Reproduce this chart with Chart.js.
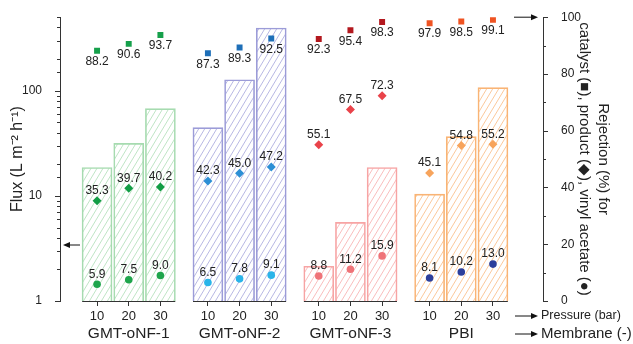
<!DOCTYPE html>
<html>
<head>
<meta charset="utf-8">
<script src="https://cdn.jsdelivr.net/npm/chart.js@4.4.1/dist/chart.umd.min.js"></script>
<style>
body { margin: 0; background: #fff; }
</style>
</head>
<body>
<canvas id="chart" width="633" height="344"></canvas>
<script>
const pressures = ['10', '20', '30'];
const membranes = ['GMT-oNF-1', 'GMT-oNF-2', 'GMT-oNF-3', 'PBI'];
// flux (L m-2 h-1), membrane by membrane, 10/20/30 bar
const flux = [18.6, 31.5, 67.5, 44.6, 127, 395, 2.14, 5.6, 18.6, 10.4, 36.6, 107];
// rejections (%)
const catalystRej = [88.2, 90.6, 93.7, 87.3, 89.3, 92.5, 92.3, 95.4, 98.3, 97.9, 98.5, 99.1];
const productRej = [35.3, 39.7, 40.2, 42.3, 45.0, 47.2, 55.1, 67.5, 72.3, 45.1, 54.8, 55.2];
const vinylRej = [5.9, 7.5, 9.0, 6.5, 7.8, 9.1, 8.8, 11.2, 15.9, 8.1, 10.2, 13.0];
const fluxTicks = [1, 10, 100];
const rejTicks = [0, 20, 40, 60, 80, 100];

const barColors = ['#a6dbb0', '#9c9cd8', '#f7a4a4', '#f9b475'];
const squareColors = ['#16a04b', '#1e6fb8', '#b3181e', '#ef5322'];
const diamondColors = ['#129d45', '#2d8fd5', '#e9434a', '#f7a45c'];
const circleColors = ['#1ea54c', '#2ab4e9', '#ef7378', '#2c3f9c'];

const FONT = '"Liberation Sans", Arial, sans-serif';

// groups of three bars, half a slot empty between groups
function xPos(i) { return Math.floor(i / 3) * 3.5 + i % 3; }
function perBar(colors) { return flux.map((v, i) => colors[Math.floor(i / 3)]); }

function hatch(color) {
  var c = document.createElement('canvas');
  c.width = 6; c.height = 10;
  var g = c.getContext('2d');
  g.strokeStyle = color;
  g.globalAlpha = 0.8;
  g.lineWidth = 0.9;
  for (var k = -1; k <= 1; k++) {
    g.beginPath();
    g.moveTo(k * 6, 10);
    g.lineTo(k * 6 + 6, 0);
    g.stroke();
  }
  return g.createPattern(c, 'repeat');
}

function points(values) {
  return values.map((v, i) => ({ x: xPos(i), y: v }));
}

function arrow(ctx, x1, y, x2) {
  var dir = x2 > x1 ? 1 : -1;
  ctx.beginPath();
  ctx.moveTo(x1, y);
  ctx.lineTo(x2 - dir * 5, y);
  ctx.stroke();
  ctx.beginPath();
  ctx.moveTo(x2, y);
  ctx.lineTo(x2 - dir * 7, y - 3);
  ctx.lineTo(x2 - dir * 7, y + 3);
  ctx.closePath();
  ctx.fill();
}

const valueLabels = {
  id: 'valueLabels',
  afterDatasetsDraw(chart) {
    const ctx = chart.ctx;
    ctx.save();
    ctx.font = '12px ' + FONT;
    ctx.fillStyle = '#222';
    ctx.textAlign = 'center';
    ctx.textBaseline = 'middle';
    chart.data.datasets.forEach((ds, di) => {
      if (ds.type !== 'scatter') return;
      chart.getDatasetMeta(di).data.forEach((pt, i) => {
        const dy = ds.labelBelow ? 11 : -10;
        ctx.fillText(ds.data[i].y.toFixed(1), pt.x, pt.y + dy);
      });
    });
    ctx.restore();
  }
};

const axisExtras = {
  id: 'axisExtras',
  afterDraw(chart) {
    const ctx = chart.ctx;
    const x = chart.scales.x, yl = chart.scales.yFlux, yr = chart.scales.yRej;
    const area = chart.chartArea;
    ctx.save();
    ctx.strokeStyle = '#333';
    ctx.fillStyle = '#222';
    ctx.lineWidth = 1;

    // tick marks, long for labelled values
    yl.ticks.forEach(t => {
      const py = Math.round(yl.getPixelForValue(t.value)) + 0.5;
      const len = fluxTicks.includes(t.value) ? 5 : 3;
      ctx.beginPath(); ctx.moveTo(area.left - len, py); ctx.lineTo(area.left, py); ctx.stroke();
    });
    yr.ticks.forEach(t => {
      const py = Math.round(yr.getPixelForValue(t.value)) + 0.5;
      const len = rejTicks.includes(t.value) ? 5 : 3;
      ctx.beginPath(); ctx.moveTo(area.right, py); ctx.lineTo(area.right + len, py); ctx.stroke();
    });

    // broken x axis, one piece per membrane
    membranes.forEach((m, g) => {
      const a = x.getPixelForValue(g * 3.5 - 0.47);
      const b = x.getPixelForValue(g * 3.5 + 2.47);
      const py = area.bottom + 0.5;
      ctx.beginPath(); ctx.moveTo(a, py); ctx.lineTo(b, py); ctx.stroke();
      ctx.font = '15.5px ' + FONT;
      ctx.textAlign = 'center';
      ctx.textBaseline = 'middle';
      ctx.fillText(m, x.getPixelForValue(g * 3.5 + 1), 334);
    });

    ctx.fillStyle = '#111';
    ctx.strokeStyle = '#111';
    arrow(ctx, area.left + 20, 245, area.left + 3);
    arrow(ctx, area.right - 29, area.top, area.right - 5);
    arrow(ctx, area.right - 28, 316, area.right - 5);
    arrow(ctx, area.right - 28, 334, area.right - 5);

    ctx.fillStyle = '#222';
    ctx.textAlign = 'left';
    ctx.textBaseline = 'middle';
    ctx.font = '12.5px ' + FONT;
    ctx.fillText('Pressure (bar)', area.right - 2, 316);
    ctx.font = '15px ' + FONT;
    ctx.fillText('Membrane (-)', area.right - 2, 334);
    ctx.restore();
  }
};

new Chart(document.getElementById('chart'), {
  type: 'bar',
  data: {
    datasets: [{
      type: 'scatter',
      data: points(catalystRej),
      yAxisID: 'yRej',
      pointStyle: 'rect',
      pointRadius: 4.2,
      pointBorderWidth: 0,
      pointBackgroundColor: perBar(squareColors),
      labelBelow: true,
      order: 0
    }, {
      type: 'scatter',
      data: points(productRej),
      yAxisID: 'yRej',
      pointStyle: 'rectRot',
      pointRadius: 4.5,
      pointBorderWidth: 0,
      pointBackgroundColor: perBar(diamondColors),
      order: 0
    }, {
      type: 'scatter',
      data: points(vinylRej),
      yAxisID: 'yRej',
      pointStyle: 'circle',
      pointRadius: 3.8,
      pointBorderWidth: 0,
      pointBackgroundColor: perBar(circleColors),
      order: 0
    }, {
      data: points(flux),
      yAxisID: 'yFlux',
      backgroundColor: perBar(barColors).map(hatch),
      borderColor: perBar(barColors),
      borderWidth: 1,
      barThickness: 30,
      order: 2
    }]
  },
  options: {
    responsive: false,
    animation: false,
    devicePixelRatio: 1,
    layout: { padding: { top: 17, left: 0, right: 0, bottom: 0 } },
    plugins: { legend: { display: false }, tooltip: { enabled: false } },
    scales: {
      x: {
        type: 'linear',
        min: -1.17,
        max: 14.08,
        offset: false,
        grid: { display: true, offset: false, drawOnChartArea: false, drawTicks: true, tickLength: 5, color: '#333' },
        border: { display: false },
        afterBuildTicks: s => { s.ticks = flux.map((v, i) => ({ value: xPos(i) })); },
        ticks: {
          autoSkip: false,
          maxRotation: 0,
          padding: 3,
          color: '#222',
          font: { family: FONT, size: 13 },
          callback: (v, i) => pressures[i % 3]
        },
        afterFit: s => { s.height = 43; }
      },
      yFlux: {
        type: 'logarithmic',
        position: 'left',
        min: 1,
        max: 500,
        grid: { display: false },
        border: { display: true, color: '#333' },
        ticks: {
          autoSkip: false,
          padding: 10,
          color: '#222',
          font: { family: FONT, size: 12 },
          callback: v => fluxTicks.includes(v) ? String(v) : ''
        },
        title: {
          display: true,
          text: 'Flux (L m\u207B\u00B2 h\u207B\u00B9)',
          color: '#222',
          font: { family: FONT, size: 16 },
          padding: { top: 8, bottom: 0 }
        },
        afterFit: s => { s.width = 60; }
      },
      yRej: {
        type: 'linear',
        position: 'right',
        min: 0,
        max: 100,
        grid: { display: false },
        border: { display: true, color: '#333' },
        ticks: {
          stepSize: 10,
          autoSkip: false,
          padding: 10,
          color: '#222',
          font: { family: FONT, size: 12 },
          callback: v => rejTicks.includes(v) ? String(v) : ''
        },
        title: {
          display: true,
          text: ['Rejection (%) for', 'catalyst (\u25A0), product (\u25C6), vinyl acetate (\u25CF)'],
          color: '#222',
          font: { family: FONT, size: 15, lineHeight: 1.27 },
          padding: { top: 20.5, bottom: 0 }
        },
        afterFit: s => { s.width = 90; }
      }
    }
  },
  plugins: [valueLabels, axisExtras]
});
</script>
</body>
</html>
